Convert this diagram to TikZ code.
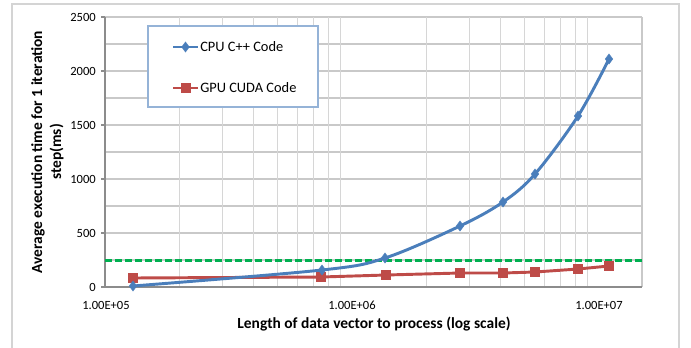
\documentclass[tikz,border=0pt]{standalone}
\usepackage{fontspec}
\setmainfont{Carlito}
\usetikzlibrary{plotmarks}
\definecolor{cpublue}{HTML}{4A7EBB}
\definecolor{gpured}{HTML}{BE4B48}
\definecolor{refgreen}{HTML}{00B050}
\definecolor{gridc}{HTML}{C9C9C9}
\definecolor{vgridc}{HTML}{D6D6D6}
\definecolor{axisc}{HTML}{8C8C8C}
\definecolor{framec}{HTML}{D4D4D4}
\definecolor{legc}{HTML}{95B3D7}
\tikzset{
  ticklab/.style={font=\fontsize{9.4}{10}\selectfont, inner sep=0pt},
  axtitle/.style={font=\bfseries\fontsize{11.6}{14.25}\selectfont, inner sep=0pt},
  legtext/.style={font=\fontsize{10.8}{12}\selectfont, inner sep=0pt, anchor=west},
  cpuline/.style={cpublue, line width=2.2pt, line join=round},
  gpuline/.style={gpured, line width=2.2pt, line join=round},
  cpumark/.style={mark=diamond*, mark size=3.8pt, mark options={solid, fill=cpublue, draw=cpublue, line width=0.3pt}},
  gpumark/.style={mark=square*, mark size=3.4pt, mark options={solid, fill=gpured, draw=gpured, line width=0.3pt}},
}
\begin{document}
\begin{tikzpicture}[x=0.75pt,y=-0.75pt]
\useasboundingbox (0,0) rectangle (691,347);
% outer chart frame
\draw[framec, line width=1.3pt] (12,352) -- (12,4) -- (679,4) -- (679,352);
% horizontal gridlines
\foreach \v in {250,500,...,2500}
  \draw[gridc, line width=0.8pt] (105,{287-0.108*\v}) -- (642,{287-0.108*\v});
% vertical minor gridlines (log)
\foreach \d in {105,352}
  \foreach \k in {2,...,9}
    \draw[vgridc, line width=0.8pt] ({\d+247*log10(\k)},17) -- ({\d+247*log10(\k)},287);
% plot area right border
\draw[gridc, line width=0.8pt] (642,17) -- (642,287);
% axes
\draw[axisc, line width=0.8pt] (105,17) -- (105,287) -- (642,287);
\foreach \v in {0,500,...,2500}
  \draw[axisc, line width=0.8pt] (101,{287-0.108*\v}) -- (105,{287-0.108*\v});
% y tick labels
\foreach \v in {0,500,1000,1500,2000,2500}
  \node[ticklab, anchor=east] (yl\v) at (96,{287-0.108*\v}) {\v};
% x tick labels
\node[ticklab] (xl5) at (106,305) {1.00E+05};
\node[ticklab] (xl6) at (352,305) {1.00E+06};
\node[ticklab] (xl7) at (599,305) {1.00E+07};
% axis titles
\node[axtitle] (xt) at (374,324) {Length of data vector to process (log scale)};
\node[axtitle, rotate=90, align=center] (yt) at (47.5,152) {Average execution time for 1 iteration\\step(ms)};
% reference dashed line
\draw[refgreen, line width=2.2pt, dash pattern=on 5.5pt off 2pt] (105,260.5) -- (642,260.5);
% GPU series
\draw[gpuline] plot coordinates {(133,278) (321,277) (386,275) (460,273) (503,273) (535,272) (578,269) (609,266)};
\draw[gpumark] plot[only marks] coordinates {(133,278) (321,277) (386,275) (460,273) (503,273) (535,272) (578,269) (609,266)};
% CPU series
\draw[cpuline] plot[smooth, tension=0.55] coordinates {(133,286) (322,270) (385,258) (460,226) (503,202) (535,174) (578,116) (609,59)};
\draw[cpumark] plot[only marks] coordinates {(133,286) (322,270) (385,258) (460,226) (503,202) (535,174) (578,116) (609,59)};
% legend
\draw[legc, fill=white, line width=0.8pt] (148,26) rectangle (318,107);
\coordinate (l1a) at (173,47);
\coordinate (l1b) at (198,47);
\coordinate (l2a) at (173,88);
\coordinate (l2b) at (198,88);
\draw[cpuline] (l1a) -- (l1b);
\draw[cpumark] plot[only marks] coordinates {(185.5,47)};
\draw[gpuline] (l2a) -- (l2b);
\draw[gpumark] plot[only marks] coordinates {(185.5,88)};
\node[legtext] (leg1) at (200,47) {CPU C++ Code};
\node[legtext] (leg2) at (200,88) {GPU CUDA Code};
\end{tikzpicture}
\end{document}
